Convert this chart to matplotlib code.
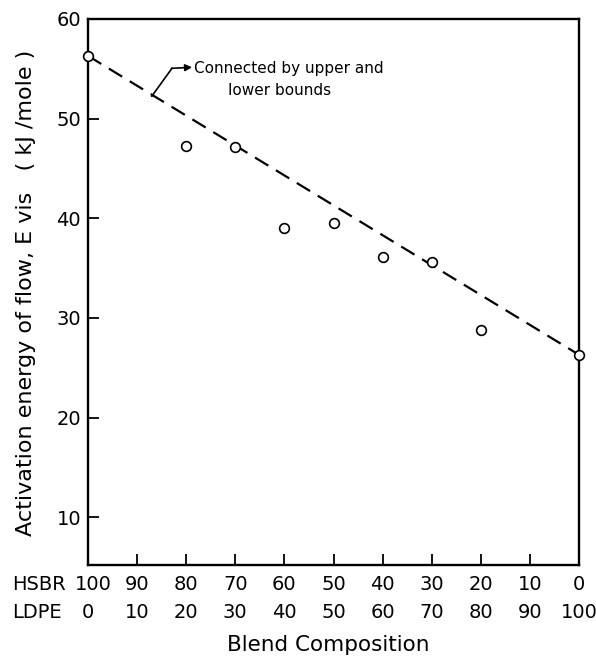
import numpy as np
import matplotlib.pyplot as plt
from matplotlib.transforms import blended_transform_factory

# data
ldpe = [0, 20, 30, 40, 50, 60, 70, 80, 100]
e_vis = [56.3, 47.3, 47.2, 39.0, 39.5, 36.1, 35.6, 28.8, 26.3]
bound_x = [0, 100]
bound_y = [56.3, 26.3]

tick_ldpe = [0, 10, 20, 30, 40, 50, 60, 70, 80, 90, 100]
tick_hsbr = [100 - v for v in tick_ldpe]
y_ticks = [10, 20, 30, 40, 50, 60]

plt.rcParams['font.family'] = 'DejaVu Sans'

fig = plt.figure(figsize=(5.96, 6.58), dpi=100)
ax = fig.add_axes([88 / 596, 1 - 565 / 658, 491 / 596, 546 / 658])

ax.plot(bound_x, bound_y, color='black', lw=1.6, dashes=(7, 4), zorder=2)
ax.plot(ldpe, e_vis, 'o', ms=7, mfc='white', mec='black', mew=1.2,
        clip_on=False, zorder=3)

ax.set_xlim(0, 100)
ax.set_ylim(5.2, 60)

for s in ax.spines.values():
    s.set_linewidth(1.7)

ax.set_yticks(y_ticks)
ax.set_yticklabels([str(v) for v in y_ticks], fontsize=14)
ax.set_xticks(tick_ldpe[1:-1])
ax.set_xticklabels([])
ax.tick_params(axis='both', direction='in', length=8, width=1.3)
ax.tick_params(axis='y', pad=5)

# two rows of composition labels
tr = blended_transform_factory(ax.transData, fig.transFigure)
for h, l in zip(tick_hsbr, tick_ldpe):
    ax.text(l + (1 if h == 100 else 0), 1 - 584 / 658, str(h), transform=tr,
            ha='center', va='center', fontsize=14)
    ax.text(l, 1 - 613 / 658, str(l), transform=tr, ha='center', va='center',
            fontsize=14)
fig.text(12 / 596, 1 - 584 / 658, 'HSBR', ha='left', va='center', fontsize=14)
fig.text(12 / 596, 1 - 613 / 658, 'LDPE', ha='left', va='center', fontsize=14)

fig.text(328 / 596, 1 - 645 / 658, 'Blend Composition', ha='center',
         va='center', fontsize=15.5)
fig.text(26 / 596, 1 - 293 / 658,
         'Activation energy of flow, E vis   ( kJ /mole )',
         rotation=90, ha='center', va='center', fontsize=16)

# annotation with kinked pointer
ax.plot([13.0, 17.1], [52.25, 55.05], color='black', lw=1.2)
ax.annotate('', xy=(21.2, 55.15), xytext=(17.0, 55.05),
            arrowprops=dict(arrowstyle='-|>', color='black', lw=1.2,
                            mutation_scale=10, shrinkA=0, shrinkB=0))
ax.text(21.6, 53.95, 'Connected by upper and\n       lower bounds', ha='left',
        va='center', fontsize=11, linespacing=1.6)

fig.savefig('out.png', dpi=100)
